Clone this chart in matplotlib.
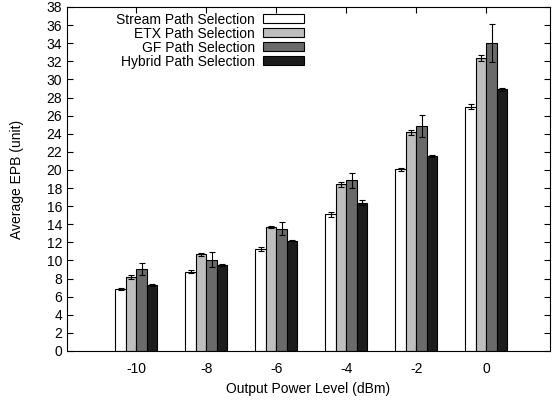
import numpy as np
import matplotlib
matplotlib.use("Agg")
import matplotlib.pyplot as plt

plt.rcParams['font.family'] = ['Liberation Sans', 'DejaVu Sans']

power_levels = ['-10', '-8', '-6', '-4', '-2', '0']

stream = [6.85, 8.77, 11.3, 15.1, 20.05, 27.0]
stream_err = [0.15, 0.15, 0.2, 0.25, 0.2, 0.25]
etx = [8.2, 10.68, 13.7, 18.4, 24.15, 32.35]
etx_err = [0.2, 0.2, 0.15, 0.3, 0.25, 0.3]
gf = [9.1, 10.1, 13.5, 18.85, 24.85, 34.0]
gf_err = [0.65, 0.85, 0.7, 0.85, 1.25, 2.1]
hybrid = [7.3, 9.5, 12.2, 16.4, 21.55, 28.9]
hybrid_err = [0.15, 0.15, 0.1, 0.25, 0.15, 0.15]

series = [
    ('Stream Path Selection', stream, stream_err, 'white'),
    ('ETX Path Selection', etx, etx_err, '#bebebe'),
    ('GF Path Selection', gf, gf_err, '#6a6a6a'),
    ('Hybrid Path Selection', hybrid, hybrid_err, '#1c1c1c'),
]

fig = plt.figure(figsize=(5.53, 4.03), dpi=100)
ax = fig.add_axes([67 / 553, 1 - 351 / 403, (550 - 67) / 553, (351 - 7) / 403])

x = np.arange(len(power_levels))
w = 0.15
for i, (name, vals, errs, col) in enumerate(series):
    pos = x + (i - 1.5) * w
    ax.bar(pos, vals, w, color=col, edgecolor='black', linewidth=0.8, label=name)
    ax.errorbar(pos, vals, yerr=errs, fmt='none', ecolor='black', elinewidth=0.8, capsize=2.5, capthick=0.8)

ax.set_xlim(-0.99, 5.91)
ax.set_ylim(0, 38)
ax.set_yticks(range(0, 39, 2))
ax.set_xticks(x)
ax.set_xticklabels(power_levels)
ax.tick_params(axis='both', direction='in', labelsize=10, length=4, top=True, right=True)
ax.tick_params(axis='x', pad=8)
ax.set_xlabel('Output Power Level (dBm)', fontsize=10)
ax.set_ylabel('Average EPB (unit)', fontsize=10, labelpad=16)

leg = ax.legend(loc='upper left', bbox_to_anchor=(0.082, 1.012), frameon=False, fontsize=10,
                markerfirst=False, handlelength=2.9, handleheight=0.6, labelspacing=0.0,
                handletextpad=0.6, borderaxespad=0.3)
for t in leg.get_texts():
    t.set_ha('right')

fig.savefig('out.png', dpi=100)
